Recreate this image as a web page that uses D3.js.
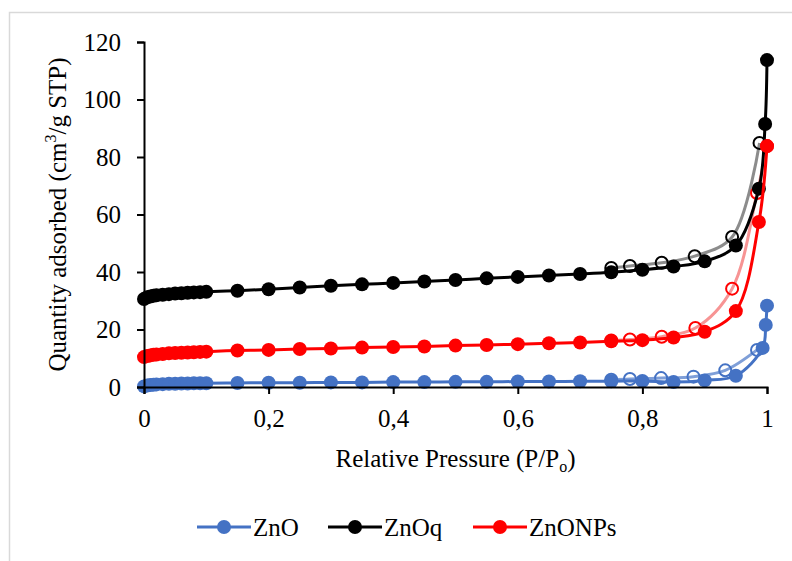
<!DOCTYPE html>
<html>
<head>
<meta charset="utf-8">
<script src="https://cdn.jsdelivr.net/npm/d3@7"></script>
<style>
  body { margin: 0; background: #fff; }
  svg { display: block; font-family: "Liberation Serif", "Times New Roman", serif; }
</style>
</head>
<body>
<div id="chart"></div>
<script>
// Isotherm data (P/Po vs cm3/g STP)
const basePressure = [0, 0.005, 0.01, 0.015, 0.02, 0.03, 0.04, 0.05, 0.06, 0.07, 0.08, 0.09, 0.10,
  0.15, 0.20, 0.25, 0.30, 0.35, 0.40, 0.45, 0.50, 0.55, 0.60, 0.65, 0.70, 0.75, 0.80, 0.85, 0.90, 0.95];

const znoAdsP = basePressure.concat([0.993, 0.998, 1.0]);
const znoAdsV = [0.2, 0.5, 0.7, 0.8, 0.9, 1.0, 1.1, 1.1, 1.2, 1.2, 1.3, 1.3, 1.3,
  1.4, 1.5, 1.5, 1.6, 1.6, 1.7, 1.7, 1.8, 1.8, 1.9, 1.9, 2.0, 2.0, 2.1, 1.7, 2.3, 3.9,
  13.6, 21.6, 28.3];
const znoDesP = [0.984, 0.933, 0.882, 0.83, 0.78, 0.75];
const znoDesV = [12.9, 5.8, 3.6, 3.1, 2.8, 2.5];

const znoqAdsP = basePressure.concat([0.987, 0.997, 1.0]);
const znoqAdsV = [30.6, 31.2, 31.5, 31.7, 31.9, 32.1, 32.3, 32.5, 32.6, 32.8, 32.9, 33.0, 33.1,
  33.5, 34.0, 34.6, 35.2, 35.7, 36.2, 36.7, 37.2, 37.8, 38.3, 38.8, 39.3, 39.9, 40.8, 41.9, 43.7, 49.2,
  69.0, 91.5, 113.7];
const znoqDesP = [0.988, 0.944, 0.884, 0.831, 0.78, 0.75];
const znoqDesV = [84.9, 52.2, 45.5, 43.2, 42.1, 41.4];

const znonpAdsP = basePressure.concat([0.987, 1.0]);
const znonpAdsV = [10.4, 10.8, 11.0, 11.2, 11.3, 11.5, 11.7, 11.8, 11.9, 12.0, 12.1, 12.2, 12.3,
  12.7, 12.9, 13.2, 13.4, 13.7, 13.9, 14.1, 14.4, 14.6, 14.9, 15.2, 15.5, 15.9, 16.3, 17.2, 19.2, 26.4,
  57.4, 83.8];
const znonpDesP = [1.0, 0.984, 0.944, 0.885, 0.831, 0.78, 0.75];
const znonpDesV = [83.8, 67.5, 34.2, 20.5, 17.5, 16.5, 16.2];

const xTicks = [0, 0.2, 0.4, 0.6, 0.8, 1];
const yTicks = [0, 20, 40, 60, 80, 100, 120];
const seriesNames = ['ZnO', 'ZnOq', 'ZnONPs'];

const width = 792, height = 561;
const margin = { left: 144, right: 25, top: 42, bottom: 174 };

const svg = d3.select('#chart').append('svg')
  .attr('width', width)
  .attr('height', height);

// light chart-area border (cropped at right and bottom)
svg.append('rect')
  .attr('x', 9.5).attr('y', 12.5)
  .attr('width', 900).attr('height', 700)
  .attr('fill', 'none')
  .attr('stroke', '#d9d9d9')
  .attr('stroke-width', 1.5);

const x = d3.scaleLinear().domain([0, 1]).range([margin.left, width - margin.right]);
const y = d3.scaleLinear().domain([0, 120]).range([height - margin.bottom, margin.top]);

const zip = (ps, vs) => ps.map((p, i) => ({ p, v: vs[i] }));

const series = [
  { name: 'ZnO', color: '#4472C4', desColor: '#7f9fd8',
    ads: zip(znoAdsP, znoAdsV), des: zip(znoDesP, znoDesV) },
  { name: 'ZnOq', color: '#000000', desColor: '#8c8c8c',
    ads: zip(znoqAdsP, znoqAdsV), des: zip(znoqDesP, znoqDesV) },
  { name: 'ZnONPs', color: '#ff0000', desColor: '#f79494',
    ads: zip(znonpAdsP, znonpAdsV), des: zip(znonpDesP, znonpDesV) }
];

const line = d3.line()
  .x(d => x(d.p))
  .y(d => y(d.v))
  .curve(d3.curveCatmullRom.alpha(0.5));

// desorption branches (open markers) go underneath
series.forEach(s => {
  const g = svg.append('g');
  g.append('path')
    .attr('d', line(s.des))
    .attr('fill', 'none')
    .attr('stroke', s.desColor)
    .attr('stroke-width', 3);
  g.selectAll('circle').data(s.des).enter().append('circle')
    .attr('cx', d => x(d.p))
    .attr('cy', d => y(d.v))
    .attr('r', 6)
    .attr('fill', 'none')
    .attr('stroke', s.color)
    .attr('stroke-width', 2);
});

// adsorption branches (filled markers)
series.forEach(s => {
  const g = svg.append('g');
  g.append('path')
    .attr('d', line(s.ads))
    .attr('fill', 'none')
    .attr('stroke', s.color)
    .attr('stroke-width', 3);
  g.selectAll('circle').data(s.ads).enter().append('circle')
    .attr('cx', d => x(d.p))
    .attr('cy', d => y(d.v))
    .attr('r', 7)
    .attr('fill', s.color);
});

// axes
const fmt = d => d3.format('~g')(d).replace('.', ',');

const xAxis = svg.append('g')
  .attr('transform', `translate(0,${y(0)})`)
  .call(d3.axisBottom(x).tickValues(xTicks).tickFormat(fmt).tickSizeOuter(0).tickSize(7).tickPadding(15));

const yAxis = svg.append('g')
  .attr('transform', `translate(${x(0)},0)`)
  .call(d3.axisLeft(y).tickValues(yTicks).tickSizeOuter(0).tickSize(7).tickPadding(16));

[xAxis, yAxis].forEach(ax => {
  ax.select('.domain').attr('stroke', '#000').attr('stroke-width', 2);
  ax.selectAll('.tick line').attr('stroke', '#000').attr('stroke-width', 2);
  ax.selectAll('.tick text')
    .attr('fill', '#000')
    .style('font-family', '"Liberation Serif", serif')
    .style('font-size', '25px');
});

// axis titles
const xTitle = svg.append('text')
  .attr('x', (x(0) + x(1)) / 2)
  .attr('y', 467)
  .attr('text-anchor', 'middle')
  .style('font-size', '25px')
  .attr('fill', '#000');
xTitle.append('tspan').text('Relative Pressure (P/P');
xTitle.append('tspan').text('o').style('font-size', '16px').attr('dy', 5);
xTitle.append('tspan').text(')').attr('dy', -5);

const yTitle = svg.append('text')
  .attr('transform', `translate(66,${(y(0) + y(120)) / 2}) rotate(-90)`)
  .attr('text-anchor', 'middle')
  .style('font-size', '25px')
  .attr('fill', '#000');
yTitle.append('tspan').text('Quantity adsorbed (cm');
yTitle.append('tspan').text('3').style('font-size', '16px').attr('dy', -10);
yTitle.append('tspan').text('/g STP)').attr('dy', 10);

// legend
const legendX = [197, 328, 473];
const legend = svg.append('g').attr('transform', 'translate(0,527)');
series.forEach((s, i) => {
  const lg = legend.append('g').attr('transform', `translate(${legendX[i]},0)`);
  lg.append('line')
    .attr('x1', 0).attr('x2', 54)
    .attr('stroke', s.color)
    .attr('stroke-width', 3);
  lg.append('circle')
    .attr('cx', 27).attr('r', 7)
    .attr('fill', s.color);
  lg.append('text')
    .attr('x', 56).attr('y', 9)
    .style('font-size', '25px')
    .attr('fill', '#000')
    .text(seriesNames[i]);
});
</script>
</body>
</html>
